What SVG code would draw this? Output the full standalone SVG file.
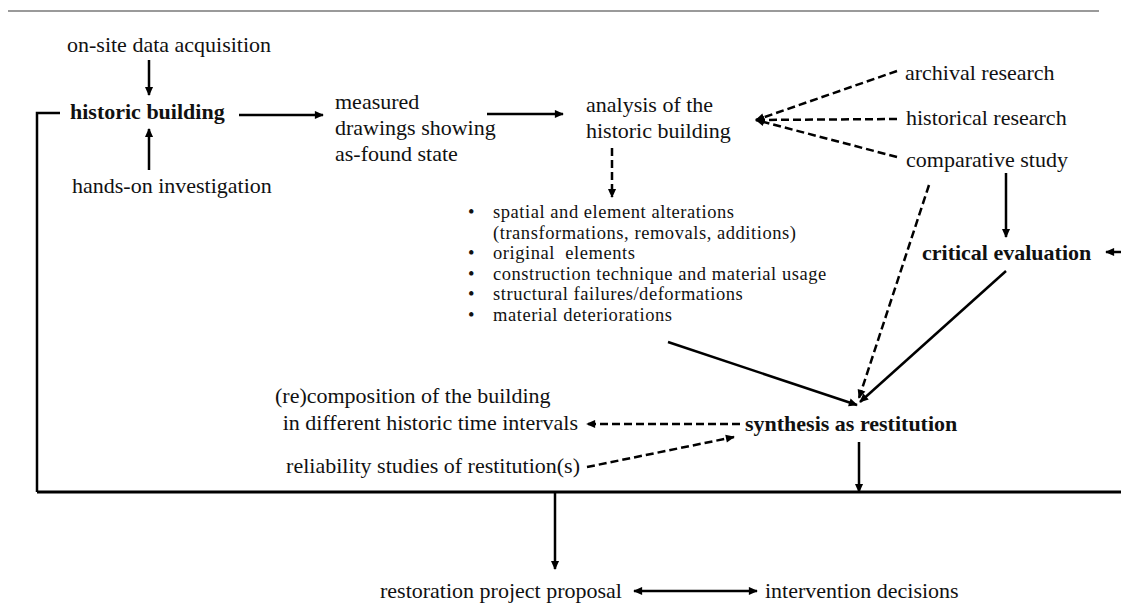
<svg xmlns="http://www.w3.org/2000/svg" width="1121" height="608" viewBox="0 0 1121 608">
<style>
text{font-family:"Liberation Serif","Times New Roman",serif;font-size:22px;fill:#111}
.b{font-weight:bold}
.s{font-size:18.5px;letter-spacing:0.55px}
.ln{stroke:#000;stroke-width:2.5;fill:none}
.d{stroke-dasharray:8 4}
</style>
<defs>
<marker id="ah" viewBox="0 0 10 10" refX="9" refY="5" markerWidth="11" markerHeight="9" markerUnits="userSpaceOnUse" orient="auto-start-reverse">
<path d="M0,0.5 L10,5 L0,9.5 z" fill="#000"/>
</marker>
</defs>
<rect width="1121" height="608" fill="#fff"/>
<line x1="8" y1="11" x2="1099" y2="11" stroke="#9a9a9a" stroke-width="2"/>

<g id="connectors">
<line class="ln" x1="149" y1="60" x2="149" y2="95" marker-end="url(#ah)"/>
<line class="ln" x1="149" y1="170" x2="149" y2="129" marker-end="url(#ah)"/>
<polyline class="ln" points="60,113 37,113 37,492"/>
<line class="ln" x1="239" y1="115" x2="323" y2="115" marker-end="url(#ah)"/>
<line class="ln" x1="487" y1="114" x2="563" y2="114" marker-end="url(#ah)"/>
<line class="ln d" x1="612" y1="148" x2="612" y2="197" marker-end="url(#ah)"/>
<line class="ln d" x1="897" y1="71" x2="756" y2="120" marker-end="url(#ah)"/>
<line class="ln d" x1="897" y1="119" x2="756" y2="120" marker-end="url(#ah)"/>
<line class="ln d" x1="897" y1="157" x2="756" y2="120" marker-end="url(#ah)"/>
<line class="ln" x1="1006" y1="173" x2="1006" y2="237" marker-end="url(#ah)"/>
<line class="ln" x1="1121" y1="252" x2="1106" y2="252" marker-end="url(#ah)"/>
<line class="ln d" x1="929" y1="185" x2="859" y2="398" marker-end="url(#ah)"/>
<line class="ln" x1="1006" y1="271" x2="860" y2="402" marker-end="url(#ah)"/>
<line class="ln" x1="668" y1="342" x2="857" y2="405" marker-end="url(#ah)"/>
<line class="ln d" x1="740" y1="424" x2="587" y2="424" marker-end="url(#ah)"/>
<line class="ln d" x1="587" y1="467" x2="734" y2="437" marker-end="url(#ah)"/>
<line class="ln" x1="859" y1="442" x2="859" y2="492" marker-end="url(#ah)"/>
<line x1="37" y1="492" x2="1121" y2="492" stroke="#000" stroke-width="3"/>
<line class="ln" x1="555" y1="492" x2="555" y2="569" marker-end="url(#ah)"/>
<line class="ln" x1="634" y1="591" x2="757" y2="591" marker-start="url(#ah)" marker-end="url(#ah)"/>
</g>

<g id="onsite"><text x="67" y="52">on-site data acquisition</text></g>
<g id="historic-building"><text class="b" x="70" y="119">historic building</text></g>
<g id="hands-on"><text x="72" y="193">hands-on investigation</text></g>
<g id="measured"><text x="335" y="109">measured</text><text x="335" y="135">drawings showing</text><text x="335" y="161">as-found state</text></g>
<g id="analysis"><text x="586" y="112">analysis of the</text><text x="586" y="138">historic building</text></g>
<g id="archival"><text x="905" y="80">archival research</text></g>
<g id="historical"><text x="906" y="125">historical research</text></g>
<g id="comparative"><text x="906" y="167">comparative study</text></g>
<g id="critical"><text class="b" x="922" y="260">critical evaluation</text></g>
<g id="findings">
<text class="s" x="468" y="218">•</text><text class="s" x="493" y="218">spatial and element alterations</text>
<text class="s" x="493" y="238.5">(transformations, removals, additions)</text>
<text class="s" x="468" y="259">•</text><text class="s" x="493" y="259" style="white-space:pre">original  elements</text>
<text class="s" x="468" y="279.5">•</text><text class="s" x="493" y="279.5">construction technique and material usage</text>
<text class="s" x="468" y="300">•</text><text class="s" x="493" y="300">structural failures/deformations</text>
<text class="s" x="468" y="320.5">•</text><text class="s" x="493" y="320.5">material deteriorations</text>
</g>
<g id="synthesis"><text class="b" x="745" y="431">synthesis as restitution</text></g>
<g id="recomposition"><text x="275" y="403">(re)composition of the building</text><text x="578" y="430" text-anchor="end">in different historic time intervals</text></g>
<g id="reliability"><text x="580" y="473" text-anchor="end">reliability studies of restitution(s)</text></g>
<g id="restoration"><text x="380" y="598">restoration project proposal</text></g>
<g id="intervention"><text x="765" y="598">intervention decisions</text></g>
</svg>
